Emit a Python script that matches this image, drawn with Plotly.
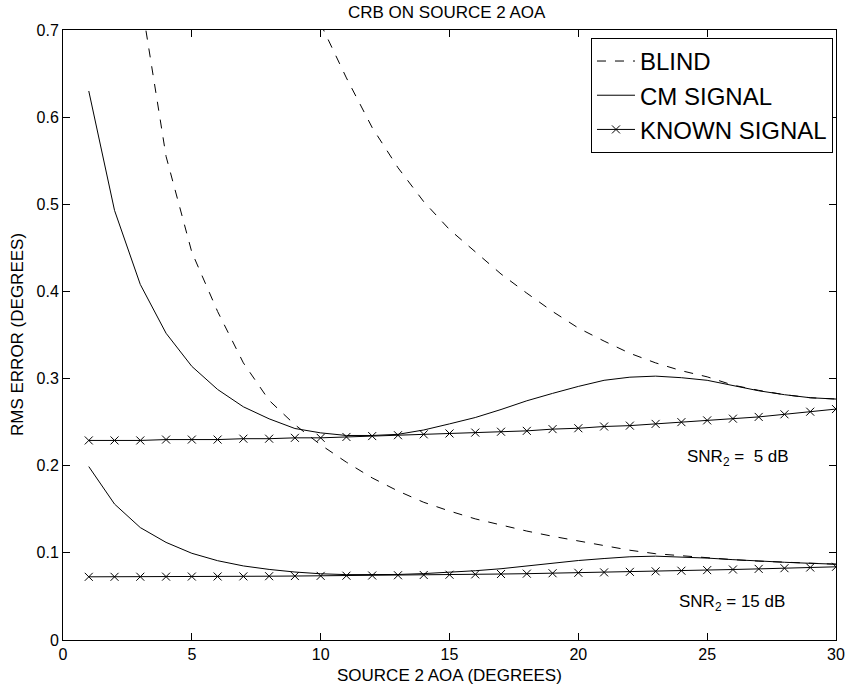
import plotly.graph_objects as go

# ---- data ----
x_all = list(range(1, 31))

known_5db = [0.229, 0.229, 0.229, 0.230, 0.230, 0.230, 0.231, 0.231, 0.232, 0.232,
             0.233, 0.234, 0.235, 0.236, 0.237, 0.238, 0.239, 0.240, 0.242, 0.243,
             0.245, 0.246, 0.248, 0.250, 0.252, 0.254, 0.256, 0.259, 0.262, 0.265]

cm_5db = [0.630, 0.493, 0.408, 0.352, 0.314, 0.2875, 0.2676, 0.2538, 0.2427, 0.2377,
          0.2347, 0.2347, 0.236, 0.241, 0.248, 0.2553, 0.2645, 0.2745, 0.283, 0.291,
          0.298, 0.3016, 0.3028, 0.301, 0.298, 0.2917, 0.286, 0.2815, 0.278, 0.2765]

x_blind_5db = list(range(9, 31))
blind_5db = [0.785, 0.707, 0.645, 0.588, 0.542, 0.503, 0.471, 0.445, 0.420, 0.398,
             0.377, 0.358, 0.343, 0.329, 0.318, 0.309, 0.302, 0.2925, 0.2865, 0.2815,
             0.278, 0.2765]

known_15db = [0.0725, 0.0725, 0.0726, 0.0727, 0.0728, 0.0729, 0.0730, 0.0732, 0.0734, 0.0736,
              0.0738, 0.0740, 0.0743, 0.0746, 0.0749, 0.0753, 0.0757, 0.0761, 0.0766, 0.0771,
              0.0776, 0.0782, 0.0788, 0.0795, 0.0802, 0.0809, 0.0816, 0.0824, 0.0832, 0.0840]

cm_15db = [0.199, 0.156, 0.129, 0.112, 0.0995, 0.091, 0.085, 0.081, 0.078, 0.076,
           0.075, 0.0748, 0.0752, 0.0762, 0.0775, 0.0795, 0.0818, 0.085, 0.0885, 0.0912,
           0.0935, 0.0955, 0.0962, 0.0955, 0.094, 0.0922, 0.0905, 0.0892, 0.088, 0.087]

x_blind_15db = list(range(3, 31))
blind_15db = [0.740, 0.555, 0.445, 0.377, 0.318, 0.275, 0.247, 0.224, 0.204, 0.186,
              0.171, 0.158, 0.148, 0.139, 0.132, 0.125, 0.119, 0.1135, 0.108, 0.103,
              0.099, 0.0965, 0.094, 0.0922, 0.0905, 0.0892, 0.088, 0.087]

x_ticks = [0, 5, 10, 15, 20, 25, 30]
y_ticks = [0, 0.1, 0.2, 0.3, 0.4, 0.5, 0.6, 0.7]
y_tick_labels = ["0", "0.1", "0.2", "0.3", "0.4", "0.5", "0.6", "0.7"]

FONT = "Liberation Sans, Arial, Helvetica, sans-serif"
BLACK = "black"
MARKER = dict(symbol="x-thin", size=8, line=dict(color=BLACK, width=1))

fig = go.Figure()

# Blind
fig.add_trace(go.Scatter(x=x_blind_15db, y=blind_15db, mode="lines", name="BLIND",
                         line=dict(color=BLACK, width=1, dash="dash"), legendrank=1))
fig.add_trace(go.Scatter(x=x_blind_5db, y=blind_5db, mode="lines", name="BLIND",
                         line=dict(color=BLACK, width=1, dash="dash"), showlegend=False))
# CM signal
fig.add_trace(go.Scatter(x=x_all, y=cm_5db, mode="lines", name="CM SIGNAL",
                         line=dict(color=BLACK, width=1), legendrank=2))
fig.add_trace(go.Scatter(x=x_all, y=cm_15db, mode="lines", name="CM SIGNAL",
                         line=dict(color=BLACK, width=1), showlegend=False))
# Known signal
fig.add_trace(go.Scatter(x=x_all, y=known_5db, mode="lines+markers", name="KNOWN SIGNAL",
                         line=dict(color=BLACK, width=1), marker=MARKER, legendrank=3))
fig.add_trace(go.Scatter(x=x_all, y=known_15db, mode="lines+markers", name="KNOWN SIGNAL",
                         line=dict(color=BLACK, width=1), marker=MARKER, showlegend=False))

# in-plot labels
fig.add_annotation(x=26.2, y=0.209, text="SNR<sub>2</sub> =  5 dB", showarrow=False,
                   font=dict(size=17, color=BLACK, family=FONT))
fig.add_annotation(x=25.98, y=0.043, text="SNR<sub>2</sub> = 15 dB", showarrow=False,
                   font=dict(size=17, color=BLACK, family=FONT))

# axis titles / title as annotations (fixed positions, no margin pushing)
fig.add_annotation(x=0.5, y=-0.059, xref="paper", yref="paper", text="SOURCE 2 AOA (DEGREES)",
                   showarrow=False, xanchor="center", yanchor="middle",
                   font=dict(size=17, color=BLACK, family=FONT))
fig.add_annotation(x=-0.0595, y=0.5, xref="paper", yref="paper", text="RMS ERROR (DEGREES)",
                   showarrow=False, textangle=-90, xanchor="center", yanchor="middle",
                   font=dict(size=17, color=BLACK, family=FONT))
fig.add_annotation(x=0.497, y=1.0295, xref="paper", yref="paper", text="CRB ON SOURCE 2 AOA",
                   showarrow=False, xanchor="center", yanchor="middle",
                   font=dict(size=17, color=BLACK, family=FONT))

fig.update_layout(
    width=849, height=691,
    margin=dict(l=63, r=13, t=30, b=51),
    paper_bgcolor="white", plot_bgcolor="white",
    font=dict(family=FONT, color=BLACK, size=16),
    showlegend=True,
    legend=dict(x=0.9961, y=0.987, xanchor="right", yanchor="top",
                bgcolor="white", bordercolor=BLACK, borderwidth=1,
                font=dict(size=24, family=FONT, color=BLACK),
                tracegroupgap=0, itemwidth=38),
    xaxis=dict(range=[0, 30], tickvals=x_ticks, ticks="inside", ticklen=7,
               tickcolor=BLACK, showline=True, linecolor=BLACK, linewidth=1,
               mirror="allticks", showgrid=False, zeroline=False, automargin=False,
               tickfont=dict(size=16, family=FONT)),
    yaxis=dict(range=[0, 0.7], tickvals=y_ticks, ticktext=y_tick_labels,
               ticks="inside", ticklen=7,
               tickcolor=BLACK, showline=True, linecolor=BLACK, linewidth=1,
               mirror="allticks", showgrid=False, zeroline=False, automargin=False,
               tickfont=dict(size=16, family=FONT)),
)

# remove the browser's default 8px page margin so the figure sits at the window's corner
fig.write_html("out.html", config={"displayModeBar": False},
               post_script="document.body.style.margin='0px';")
